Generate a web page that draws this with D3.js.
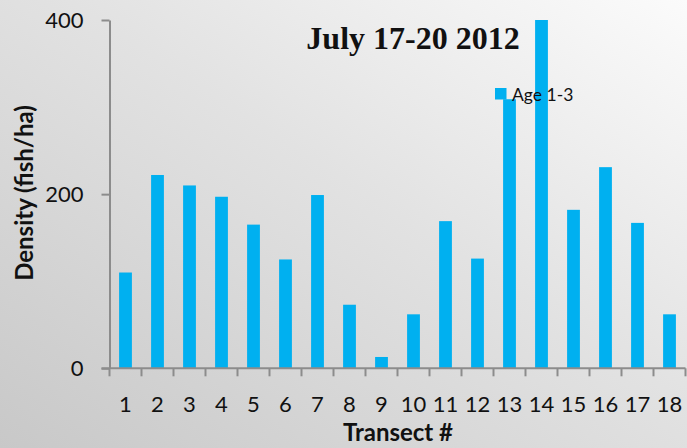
<!DOCTYPE html>
<html>
<head>
<meta charset="utf-8">
<script src="https://cdn.jsdelivr.net/npm/d3@7"></script>
<style>
  html, body { margin: 0; padding: 0; background: #fff; }
  svg { display: block; }
</style>
</head>
<body>
<div id="chart"></div>
<script>
// Fish density per transect, July 17-20 2012
const transects = ["1","2","3","4","5","6","7","8","9","10","11","12","13","14","15","16","17","18"];
const density = [110, 222, 210, 197, 165, 125, 199, 73, 13, 62, 169, 126, 309, 400, 182, 231, 167, 62];
const yTicks = [0, 200, 400];
const seriesName = "Age 1-3";
const chartTitle = "July 17-20 2012";

const W = 687, H = 448;
const margin = { left: 109.5, right: 1.5, top: 20, bottom: 80 };
const baseFont = "Lato, 'Open Sans', 'Liberation Sans', sans-serif";

const svg = d3.select("#chart").append("svg")
  .attr("width", W).attr("height", H);

// soft diagonal backdrop, darker toward the lower left
const defs = svg.append("defs");
const grad = defs.append("linearGradient")
  .attr("id", "bg").attr("x1", "0%").attr("y1", "100%").attr("x2", "100%").attr("y2", "0%");
grad.append("stop").attr("offset", "0%").attr("stop-color", "#c8c8c8");
grad.append("stop").attr("offset", "55%").attr("stop-color", "#e2e2e2");
grad.append("stop").attr("offset", "100%").attr("stop-color", "#fbfbfb");
svg.append("rect").attr("width", W).attr("height", H).attr("fill", "url(#bg)");

const x = d3.scaleBand()
  .domain(transects)
  .range([margin.left, W - margin.right])
  .paddingInner(0.6).paddingOuter(0.3);

const y = d3.scaleLinear()
  .domain([0, 400])
  .range([368.3, 20]);

// bars
svg.append("g").selectAll("rect")
  .data(density)
  .join("rect")
  .attr("x", (d, i) => x(transects[i]))
  .attr("y", d => y(d))
  .attr("width", x.bandwidth())
  .attr("height", d => y(0) - y(d))
  .attr("fill", "#00b0f0");

// y axis
const yAxis = svg.append("g")
  .attr("transform", `translate(${margin.left},0)`)
  .call(d3.axisLeft(y).tickValues(yTicks).tickSize(8).tickPadding(18).tickSizeOuter(0));
yAxis.select(".domain").attr("stroke", "#8c8c8c").attr("stroke-width", 2);
yAxis.selectAll(".tick line").attr("stroke", "#8c8c8c").attr("stroke-width", 2);
yAxis.selectAll(".tick text")
  .attr("font-family", baseFont).attr("font-size", 22).attr("fill", "#111");

// x axis with ticks at category boundaries
const xAxisG = svg.append("g").attr("transform", `translate(0,${y(0)})`);
xAxisG.append("line")
  .attr("x1", margin.left - 8).attr("x2", W - margin.right)
  .attr("stroke", "#8c8c8c").attr("stroke-width", 2);
const boundaries = d3.range(transects.length + 1).map(i => margin.left + i * (W - margin.right - margin.left) / transects.length);
xAxisG.selectAll("line.tk")
  .data(boundaries)
  .join("line").attr("class", "tk")
  .attr("x1", d => d).attr("x2", d => d)
  .attr("y1", 0).attr("y2", 8)
  .attr("stroke", "#8c8c8c").attr("stroke-width", 2);
xAxisG.selectAll("text")
  .data(transects)
  .join("text")
  .attr("x", d => x(d) + x.bandwidth() / 2)
  .attr("y", 44)
  .attr("text-anchor", "middle")
  .attr("font-family", baseFont).attr("font-size", 22).attr("fill", "#111")
  .text(d => d);

// axis titles
svg.append("text")
  .attr("x", 398).attr("y", 441)
  .attr("text-anchor", "middle")
  .attr("font-family", baseFont).attr("font-weight", "bold").attr("font-size", 24).attr("fill", "#111")
  .text("Transect #");

svg.append("text")
  .attr("transform", "translate(33,193) rotate(-90)")
  .attr("text-anchor", "middle")
  .attr("font-family", baseFont).attr("font-weight", "bold").attr("font-size", 24).attr("fill", "#111")
  .text("Density (fish/ha)");

// title
svg.append("text")
  .attr("x", 413).attr("y", 49)
  .attr("text-anchor", "middle")
  .attr("font-family", "'Liberation Serif', 'Times New Roman', serif")
  .attr("font-weight", "bold").attr("font-size", 32).attr("fill", "#111")
  .text(chartTitle);

// legend
const lg = svg.append("g").attr("transform", "translate(495,88)");
lg.append("rect").attr("width", 11.5).attr("height", 11.5).attr("fill", "#00b0f0");
lg.append("text")
  .attr("x", 17).attr("y", 12.5)
  .attr("font-family", baseFont).attr("font-size", 17.5).attr("fill", "#111")
  .text(seriesName);
</script>
</body>
</html>
